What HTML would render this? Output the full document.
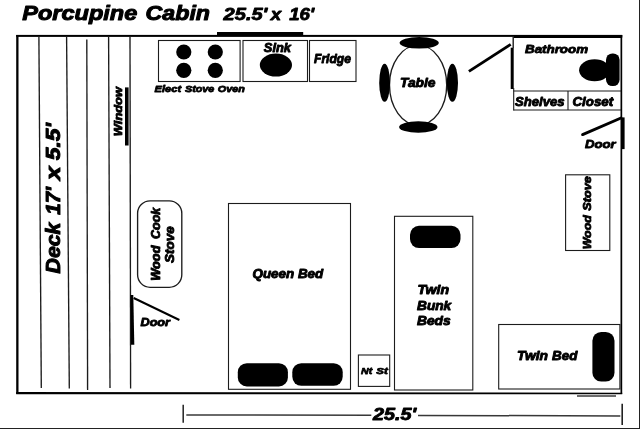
<!DOCTYPE html>
<html lang="en">
<head>
<meta charset="utf-8">
<title>Porcupine Cabin 25.5' x 16'</title>
<style>
html,body{margin:0;padding:0;background:#fff;}
body{width:640px;height:429px;overflow:hidden;position:relative;}
svg{display:block;position:absolute;left:0;top:0;filter:grayscale(1);}
text{font-family:"Liberation Sans",Arial,Helvetica,sans-serif;font-weight:bold;font-style:italic;fill:#000;stroke:#000;stroke-linejoin:round;}
.ln{stroke:#1c1c1c;stroke-width:1.1;fill:none;}
.bx{stroke:#1c1c1c;stroke-width:1.1;fill:#fff;}
.bk{fill:#000;stroke:none;}
</style>
</head>
<body>
<svg width="640" height="429" viewBox="0 0 640 429">
<rect x="0" y="0" width="640" height="429" fill="#fff"/>

<!-- image frame edges -->
<rect x="639" y="0" width="1" height="429" fill="#222"/>
<rect x="0" y="428" width="640" height="1" fill="#222"/>

<!-- outer walls -->
<rect class="bk" x="16.2" y="34.9" width="606" height="2"/>
<rect class="bk" x="16.2" y="35" width="2.3" height="359"/>
<polygon class="bk" points="16.2,392.1 622.2,392.7 622.2,394.2 16.2,394.2"/>
<rect class="bk" x="620.5" y="35" width="1.7" height="359"/>

<!-- top window bar -->
<rect class="bk" x="217" y="32" width="86.2" height="4"/>
<!-- bathroom thick top + left wall -->
<rect class="bk" x="513.6" y="35" width="108.6" height="3"/>
<rect class="bk" x="510.7" y="47.7" width="3" height="41.3"/>
<line class="ln" x1="513.2" y1="36" x2="513.2" y2="48" style="stroke-width:1.4"/>

<!-- deck boards -->
<line class="ln" x1="38.9" y1="37" x2="41.3" y2="388" style="stroke-width:1.35"/>
<line class="ln" x1="66.6" y1="37" x2="69.3" y2="388.5" style="stroke-width:1.35"/>
<line class="ln" x1="86.8" y1="39.5" x2="87.6" y2="390" style="stroke-width:1.35"/>
<line class="ln" x1="108.6" y1="37" x2="110" y2="388" style="stroke-width:1.35"/>
<line class="ln" x1="130" y1="37" x2="130.6" y2="388.5" style="stroke-width:1.35"/>

<!-- left window bar -->
<rect class="bk" x="125" y="87.4" width="3.6" height="58.1"/>
<!-- left door -->
<polygon class="bk" points="130.5,295 133.3,295 134.3,344.8 131,344.8"/>
<line x1="133.7" y1="298" x2="179.4" y2="320" stroke="#000" stroke-width="2"/>

<!-- kitchen -->
<rect class="bx" x="158.5" y="40.5" width="81.6" height="41"/>
<circle class="bk" cx="183.8" cy="52" r="7.6"/>
<circle class="bk" cx="215.3" cy="52" r="7.6"/>
<circle class="bk" cx="183.8" cy="70.3" r="7.6"/>
<circle class="bk" cx="215.3" cy="70.3" r="7.6"/>
<rect class="bx" x="243" y="40.5" width="64.5" height="41"/>
<ellipse class="bk" cx="275.9" cy="65.1" rx="16.1" ry="11.5"/>
<rect class="bx" x="309.5" y="40.5" width="46.5" height="41"/>

<!-- table and chairs -->
<ellipse class="bx" cx="418.1" cy="85.1" rx="28.6" ry="39.9" style="stroke-width:1.35"/>
<ellipse class="bk" cx="419.2" cy="42.8" rx="19.6" ry="5.8"/>
<ellipse class="bk" cx="418.3" cy="127" rx="19.2" ry="5.8"/>
<ellipse class="bk" cx="384.6" cy="82.7" rx="5.4" ry="19"/>
<ellipse class="bk" cx="452.4" cy="82.7" rx="5.6" ry="19"/>

<!-- bathroom -->
<line x1="468.9" y1="71.4" x2="510.7" y2="44.4" stroke="#000" stroke-width="2.9"/>
<line class="ln" x1="513.5" y1="91" x2="621" y2="91"/>
<line class="ln" x1="513.5" y1="110" x2="621" y2="110"/>
<line class="ln" x1="513.7" y1="88" x2="513.7" y2="110.5"/>
<line class="ln" x1="568" y1="91" x2="568" y2="110"/>
<ellipse class="bk" cx="594.6" cy="70.3" rx="15.5" ry="11"/>
<rect class="bk" x="606" y="53.4" width="13.6" height="32.6" rx="6.4" ry="6.4"/>

<!-- right door -->
<rect class="bk" x="621.7" y="117.4" width="2.9" height="31.7"/>
<line x1="582.6" y1="134.6" x2="621" y2="118" stroke="#000" stroke-width="2.9" stroke-linecap="round"/>

<!-- wood stove -->
<rect class="bx" x="565.6" y="174.8" width="44.2" height="75.7"/>
<!-- wood cook stove -->
<rect class="bx" x="137.6" y="200.8" width="44.2" height="86.5" rx="12.5" ry="12.5" style="stroke-width:1.35"/>

<!-- queen bed -->
<rect class="bx" x="228.5" y="203.5" width="122" height="185.8"/>
<rect class="bk" x="237.8" y="363.2" width="50.1" height="23.2" rx="9" ry="9"/>
<rect class="bk" x="292.3" y="363.2" width="50.4" height="22.6" rx="9" ry="9"/>
<!-- night stand -->
<rect class="bx" x="358.4" y="355" width="31.3" height="31.4"/>
<!-- bunk beds -->
<rect class="bx" x="394.5" y="216.3" width="78.3" height="173.7"/>
<rect class="bk" x="410" y="225.8" width="50.5" height="22.3" rx="9" ry="9"/>
<!-- twin bed -->
<rect class="bx" x="498.7" y="324.5" width="121.2" height="64.5"/>
<rect class="bk" x="592.4" y="331.9" width="22.1" height="49.6" rx="8.8" ry="8.8"/>

<!-- small window under twin bed -->
<line x1="577" y1="396" x2="616" y2="396" stroke="#3a3a3a" stroke-width="1.3"/>

<!-- dimension line -->
<line x1="183.2" y1="404.8" x2="183.2" y2="422.7" stroke="#222" stroke-width="1.5"/>
<line x1="186.3" y1="414.9" x2="371.3" y2="415.3" stroke="#383838" stroke-width="1.5"/>
<line x1="418" y1="415.4" x2="620.3" y2="415.9" stroke="#383838" stroke-width="1.5"/>
<line x1="622.2" y1="403.8" x2="622.2" y2="424.9" stroke="#222" stroke-width="1.6"/>

<!-- labels -->
<text x="22.3" y="20" font-size="20.5" stroke-width="1" textLength="115" lengthAdjust="spacingAndGlyphs">Porcupine</text>
<text x="145.6" y="20" font-size="20.5" stroke-width="1" textLength="64.4" lengthAdjust="spacingAndGlyphs">Cabin</text>
<text x="223.6" y="19.8" font-size="17" stroke-width="0.85" textLength="43.8" lengthAdjust="spacingAndGlyphs">25.5'</text>
<text x="270.8" y="19.8" font-size="17" stroke-width="0.85" textLength="10.4" lengthAdjust="spacingAndGlyphs">x</text>
<text x="289.2" y="19.8" font-size="17" stroke-width="0.85" textLength="25.1" lengthAdjust="spacingAndGlyphs">16'</text>
<text x="263.8" y="51.7" font-size="12.2" stroke-width="0.85" textLength="27.2" lengthAdjust="spacingAndGlyphs">Sink</text>
<text x="314" y="63" font-size="12" stroke-width="0.85" textLength="37" lengthAdjust="spacingAndGlyphs">Fridge</text>
<text x="154.6" y="92.2" font-size="9.75" stroke-width="0.8" textLength="26.6" lengthAdjust="spacingAndGlyphs">Elect</text>
<text x="185" y="92.2" font-size="9.75" stroke-width="0.8" textLength="29.3" lengthAdjust="spacingAndGlyphs">Stove</text>
<text x="217.8" y="92.2" font-size="9.75" stroke-width="0.8" textLength="27" lengthAdjust="spacingAndGlyphs">Oven</text>
<text x="400" y="86.7" font-size="12.2" stroke-width="0.85" textLength="35.5" lengthAdjust="spacingAndGlyphs">Table</text>
<text x="525" y="53.2" font-size="11.8" stroke-width="0.85" textLength="63" lengthAdjust="spacingAndGlyphs">Bathroom</text>
<text x="515" y="105.6" font-size="12" stroke-width="0.85" textLength="49.5" lengthAdjust="spacingAndGlyphs">Shelves</text>
<text x="572.5" y="105.6" font-size="12" stroke-width="0.85" textLength="40.7" lengthAdjust="spacingAndGlyphs">Closet</text>
<text x="585" y="148" font-size="11.5" stroke-width="0.85" textLength="30.7" lengthAdjust="spacingAndGlyphs">Door</text>
<text x="140.5" y="326.2" font-size="11.5" stroke-width="0.85" textLength="29.5" lengthAdjust="spacingAndGlyphs">Door</text>
<text x="252.5" y="278" font-size="12" stroke-width="0.85" textLength="70.7" lengthAdjust="spacingAndGlyphs">Queen Bed</text>
<text x="417.5" y="293.7" font-size="12" stroke-width="0.85" textLength="31.7" lengthAdjust="spacingAndGlyphs">Twin</text>
<text x="417" y="309.5" font-size="12" stroke-width="0.85" textLength="34.2" lengthAdjust="spacingAndGlyphs">Bunk</text>
<text x="417" y="324.5" font-size="12" stroke-width="0.85" textLength="33.7" lengthAdjust="spacingAndGlyphs">Beds</text>
<text x="361" y="373.9" font-size="9.9" stroke-width="0.75" textLength="11.2" lengthAdjust="spacingAndGlyphs">Nt</text>
<text x="376.3" y="373.9" font-size="9.9" stroke-width="0.75" textLength="11.5" lengthAdjust="spacingAndGlyphs">St</text>
<text x="517" y="360.4" font-size="12" stroke-width="0.85" textLength="31" lengthAdjust="spacingAndGlyphs">Twin</text>
<text x="552.1" y="360.4" font-size="12" stroke-width="0.85" textLength="25.3" lengthAdjust="spacingAndGlyphs">Bed</text>
<text x="373" y="420.2" font-size="16.3" stroke-width="0.85" textLength="43.2" lengthAdjust="spacingAndGlyphs">25.5'</text>

<!-- rotated labels -->
<text transform="translate(60.1 273.4) rotate(-90)" font-size="19.5" stroke-width="0.95" textLength="50.8" lengthAdjust="spacingAndGlyphs">Deck</text>
<text transform="translate(60.1 214.8) rotate(-90)" font-size="19.5" stroke-width="0.95" textLength="27.8" lengthAdjust="spacingAndGlyphs">17'</text>
<text transform="translate(60.1 180.2) rotate(-90)" font-size="19.5" stroke-width="0.95" textLength="14" lengthAdjust="spacingAndGlyphs">x</text>
<text transform="translate(60.1 160.2) rotate(-90)" font-size="19.5" stroke-width="0.95" textLength="37.2" lengthAdjust="spacingAndGlyphs">5.5'</text>
<text transform="translate(122.2 136.2) rotate(-90)" font-size="11.8" stroke-width="0.85" textLength="49.2" lengthAdjust="spacingAndGlyphs">Window</text>
<text transform="translate(159.8 280.8) rotate(-90)" font-size="11.9" stroke-width="0.85" textLength="35.3" lengthAdjust="spacingAndGlyphs">Wood</text>
<text transform="translate(159.8 238.9) rotate(-90)" font-size="11.9" stroke-width="0.85" textLength="31.2" lengthAdjust="spacingAndGlyphs">Cook</text>
<text transform="translate(174 262.9) rotate(-90)" font-size="11.9" stroke-width="0.85" textLength="36.5" lengthAdjust="spacingAndGlyphs">Stove</text>
<text transform="translate(591.3 249.3) rotate(-90)" font-size="11.7" stroke-width="0.85" textLength="34" lengthAdjust="spacingAndGlyphs">Wood</text>
<text transform="translate(591.3 210.7) rotate(-90)" font-size="11.7" stroke-width="0.85" textLength="34.6" lengthAdjust="spacingAndGlyphs">Stove</text>
</svg>
</body>
</html>
